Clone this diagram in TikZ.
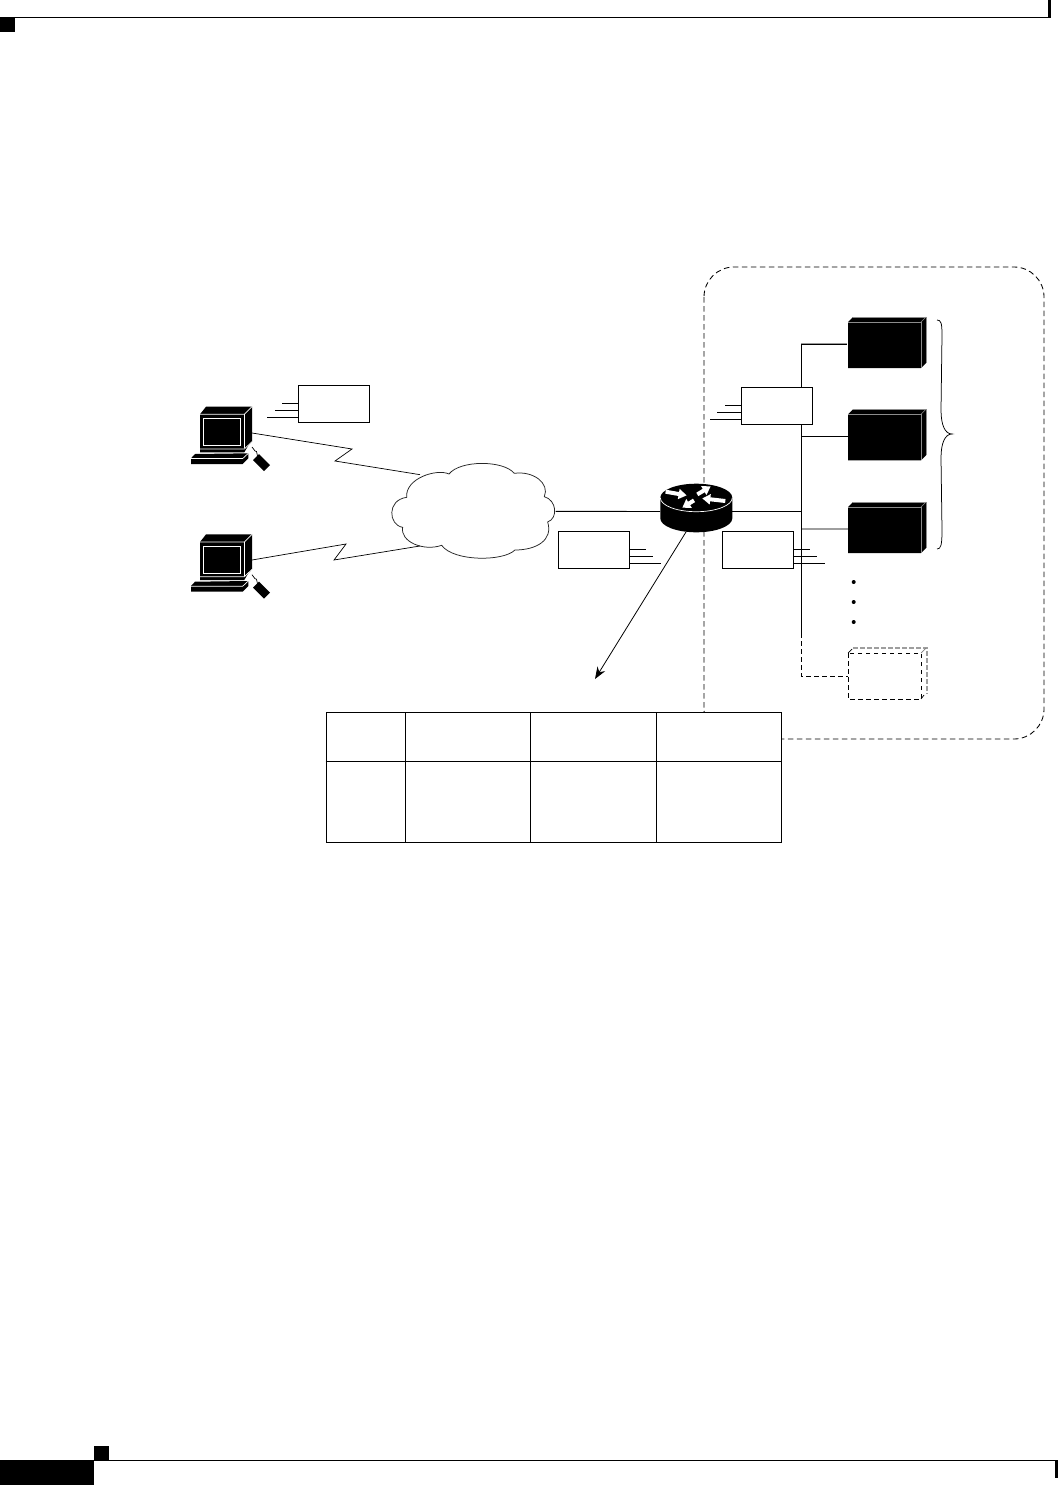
\documentclass[tikz,border=0pt]{standalone}
\usetikzlibrary{arrows.meta}
\tikzset{
  every picture/.style={x=1pt,y=-1pt},
  wire/.style={line width=0.9pt,black},
  graywire/.style={line width=1.3pt,black!38},
  thin wire/.style={line width=0.7pt,black},
  dash wire/.style={line width=0.8pt,black,dash pattern=on 4.5pt off 3.5pt},
  gray dash/.style={line width=1.1pt,black!38,dash pattern=on 4.5pt off 2.5pt},
  boundary/.style={line width=0.85pt,black,dash pattern=on 5.5pt off 3.5pt},
  labelbox/.style={draw=black,fill=white,line width=0.8pt,inner sep=0pt,minimum width=71pt,minimum height=37pt},
  serverface/.style={fill=black,inner sep=0pt,minimum width=73pt,minimum height=46pt},
  whiteline/.style={white,line width=0.7pt},
  routerarrow/.style={white,line width=4pt,-{Triangle[length=8pt,width=10pt]}}
}
\newcommand{\pcunit}[1]{%
  \begin{scope}[shift={(0,#1)}]
    \fill[black] (200,414.3) -- (206,406.7) -- (252,406.7) -- (252,441.7) -- (248,446) -- (244.3,452.3) -- (200,452.3) -- cycle;
    \draw[whiteline] (200,414.3) -- (244.3,414.3) -- (252,406.7);
    \draw[whiteline] (244.3,414.3) -- (244.3,448);
    \draw[whiteline] (203.3,418.3) rectangle (240.7,445.7);
    \draw[whiteline] (200,449) -- (244.3,449) -- (252,441.7);
    \fill[black] (195,454) -- (248.3,453.3) -- (248.3,458.3) -- (242.7,464) -- (191,464) -- (191,458.3) -- cycle;
    \draw[whiteline] (191,458.5) -- (242.7,458.5) -- (248.3,453.3);
    \draw[line width=0.7pt] (252,447) -- (255,451) -- (256.5,451.5) -- (257.5,456);
    \fill[black] (253,460) -- (259,454) -- (270,465) -- (264,471) -- cycle;
  \end{scope}%
}
\newcommand{\serverside}[1]{%
  \begin{scope}[shift={(0,#1)}]
    \fill[black] (848,322) -- (853,317) -- (926,317) -- (926,363) -- (921,368) -- (848,368) -- cycle;
    \draw[black!45,line width=0.8pt] (853,317) -- (926,317) -- (926,363);
    \draw[black!45,line width=0.8pt] (848,322) -- (921,322) -- (921,368);
    \draw[black!45,line width=0.5pt] (921,322) -- (926,317);
  \end{scope}%
}
\begin{document}
\begin{tikzpicture}
\useasboundingbox (0,0) rectangle (1058,1485);
\fill[white] (0,0) rectangle (1058,1485);

% page furniture
\fill[black] (0,17) rectangle (15,32);
\fill[black] (15,16.8) rectangle (1051,18);
\fill[black] (1048,0) rectangle (1051,18);
\fill[black] (0,1460) rectangle (94,1485);
\fill[black] (94,1446) rectangle (109,1460);
\fill[black] (94,1460) rectangle (1058,1461);
\fill[black] (1055,1460) rectangle (1058,1478);

% dashed boundary
\draw[boundary,rounded corners=30pt] (704,267) rectangle (1044,739);

% computers
\pcunit{0}
\pcunit{127.7}
\coordinate (pcA) at (252,433);
\coordinate (pcB) at (252,560);

% cloud
\begin{scope}[shift={(380,450)},x=0.3333pt,y=-0.3333pt]
  \draw[line width=0.75pt,draw=black!85,fill=white]
    (207,72) .. controls (240,30) and (370,30) .. (403,70)
    .. controls (460,62) and (510,100) .. (493,140)
    .. controls (530,150) and (535,205) .. (503,216)
    .. controls (520,270) and (470,300) .. (405,300)
    .. controls (370,335) and (220,335) .. (185,286)
    .. controls (130,305) and (60,275) .. (68,232)
    .. controls (25,225) and (20,150) .. (80,142)
    .. controls (75,85) and (170,55) .. (207,72) -- cycle;
  \coordinate (cloudE) at (527,184);
  \coordinate (cloudNW) at (120,74);
  \coordinate (cloudSW) at (120,288);
\end{scope}

% serial links
\draw[thin wire] (pcA) -- (352,449) -- (335,461) -- (cloudNW);
\draw[thin wire] (pcB) -- (346,544) -- (334,560) -- (cloudSW);

% router
\node[inner sep=0pt,minimum size=0pt] (router) at (696.3,511.5) {};
\fill[black] (660.3,497.7) -- (660.3,518.3) arc[start angle=180,end angle=0,x radius=36,y radius=14] -- (732.3,497.7) arc[start angle=0,end angle=-180,x radius=36,y radius=14] -- cycle;
\draw[whiteline] (660.3,497.7) arc[start angle=180,end angle=0,x radius=36,y radius=14];
\draw[routerarrow] (665.6,491.7) -- (686.6,495.4);
\draw[routerarrow] (725.3,501) -- (702.3,498.4);
\draw[routerarrow] (697.3,494.4) -- (710.6,486.4);
\draw[routerarrow] (694,500.4) -- (682.3,507.7);

% bus and links
\coordinate (busTop) at (801,344);
\coordinate (busEnd) at (801,633);
\coordinate (cloudLinkEnd) at (660,511.5);
\coordinate (routerR) at (732,511.5);
\coordinate (busR) at (801,511.5);
\draw[wire] (cloudE) -- (cloudLinkEnd);
\draw[wire] (routerR) -- (busR);
\draw[wire] (busTop) -- (busEnd);

% servers
\node[serverface] (s1) at (884.5,345) {};
\node[serverface] (s2) at (884.5,437) {};
\node[serverface] (s3) at (884.5,530) {};
\serverside{0}
\serverside{92.3}
\serverside{185}
\draw[wire] (busTop) -- (847,344);
\draw[black!40,line width=0.5pt] (801,343) -- (847,343);
\coordinate (b2) at (801,436);
\coordinate (b3) at (801,529);
\draw[wire] (b2) -- (b2 -| s2.west);
\draw[graywire] (b3) -- (b3 -| s3.west);

% label boxes
\node[labelbox] (box1) at (333.5,403.5) {};
\node[labelbox] (box2) at (593.5,549.5) {};
\node[labelbox] (box3) at (757.5,549.5) {};
\node[labelbox] (box4) at (776.5,405.5) {};
\draw[thin wire] (298,403) -- (282,403) (298,410) -- (275,410) (298,417) -- (267,417);
\draw[thin wire] (629,549) -- (646,549) (629,556) -- (653,556) (629,563) -- (661,563);
\draw[thin wire] (793,549) -- (810,549) (793,556) -- (817,556) (793,563) -- (825,563);
\draw[thin wire] (741,405) -- (725,405) (741,412) -- (717,412) (741,419) -- (710,419);
\draw[wire] (801,424) -- (801,531);
\draw[wire] (801,568) -- (801,570);

% brace
\draw[line width=0.75pt] (937,320) .. controls (941,320) and (942,323) .. (942,335)
  -- (941,410) .. controls (941,425) and (945,434) .. (952,434)
  .. controls (945,434) and (941,443) .. (941,458)
  -- (942,530) .. controls (942,545) and (941,549) .. (937,549);

% dots
\fill[black] (853.7,582) circle[radius=2pt];
\fill[black] (853.7,602) circle[radius=2pt];
\fill[black] (853.7,622) circle[radius=2pt];

% dashed optional server
\draw[gray dash] (853,648) -- (927,648) -- (927,694);
\draw[dash wire] (848,653) rectangle (921,699);
\draw[line width=0.7pt] (848,653) -- (852,649);
\draw[black!50,line width=0.7pt] (921,653) -- (926,648);
\draw[line width=0.7pt] (921,699) -- (924,695);
\node[inner sep=0pt,minimum size=0pt] (optS) at (848,676) {};
\draw[dash wire] (busEnd) -- (801,676) -- (optS);

% routing table
\node[draw=black,fill=white,line width=0.8pt,inner sep=0pt,minimum width=455pt,minimum height=130pt] (tbl) at (553.5,777) {};
\draw[line width=0.8pt] (tbl.west |- 0,761) -- (tbl.east |- 0,761);
\draw[line width=0.8pt] (405,712) -- (405,842);
\draw[line width=0.8pt] (530,712) -- (530,842);
\draw[line width=0.8pt] (656,712) -- (656,842);

% arrow router to table
\coordinate (tblArrow) at (595,679);
\draw[line width=0.8pt,-{Stealth[length=12pt,width=9pt]}] (686,532) -- (tblArrow);
\end{tikzpicture}
\end{document}
